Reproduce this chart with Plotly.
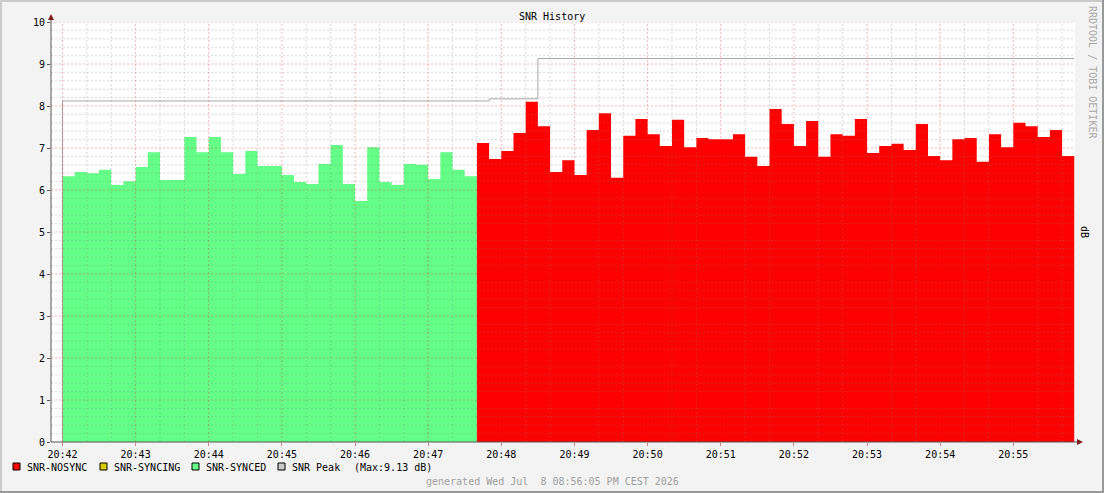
import pandas as pd
import plotly.graph_objects as go

# SNR samples, 10 s steps starting 20:42:00
start = pd.Timestamp("2026-07-08 20:42:00")
step_s = 10

synced = [6.33, 6.43, 6.40, 6.48, 6.12, 6.21, 6.55, 6.90, 6.24, 6.24,
          7.26, 6.90, 7.26, 6.90, 6.38, 6.93, 6.57, 6.57, 6.36, 6.19,
          6.14, 6.62, 7.07, 6.14, 5.74, 7.02, 6.19, 6.12, 6.62, 6.60,
          6.26, 6.90, 6.48, 6.33]
nosync = [7.12, 6.74, 6.93, 7.36, 8.10, 7.52, 6.43, 6.71, 6.36, 7.43,
          7.83, 6.29, 7.29, 7.69, 7.33, 7.05, 7.67, 7.02, 7.24, 7.21,
          7.21, 7.33, 6.79, 6.57, 7.93, 7.57, 7.05, 7.64, 6.79, 7.33,
          7.29, 7.69, 6.88, 7.05, 7.10, 6.95, 7.57, 6.81, 6.71, 7.21,
          7.24, 6.67, 7.33, 7.02, 7.60, 7.52, 7.26, 7.43, 6.81]
peak_levels = [8.12, 8.17, 9.13]
peak_runs = [35, 4, 44]

legend_names = ["SNR-NOSYNC", "SNR-SYNCING", "SNR-SYNCED", "SNR Peak"]
legend_colors = ["#FF0000", "#D8CC00", "#63FF86", "#C8C8C8"]

FONT = "DejaVu Sans Mono"
W, H = 1104, 493
L, R, T, B = 51, 1075, 22, 442


def px(x):
    return (x - L) / (R - L)


def py(y):
    return (B - y) / (B - T)


def t(i):
    return start + pd.Timedelta(seconds=step_s * i)


n_sync = len(synced)
n_all = n_sync + len(nosync)
peak = []
for lv, n in zip(peak_levels, peak_runs):
    peak += [lv] * n

fig = go.Figure()

xs = [t(i) for i in range(n_sync + 1)]
fig.add_trace(go.Scatter(x=xs, y=synced + [synced[-1]], mode="lines", line_shape="hv",
                         line=dict(width=0), fill="tozeroy", fillcolor="#63FF86",
                         hoverinfo="skip", showlegend=False))
xs = [t(i) for i in range(n_sync, n_all + 1)]
fig.add_trace(go.Scatter(x=xs, y=nosync + [nosync[-1]], mode="lines", line_shape="hv",
                         line=dict(width=0), fill="tozeroy", fillcolor="#FF0000",
                         hoverinfo="skip", showlegend=False))
xs = [t(0)] + [t(i) for i in range(n_all + 1)]
fig.add_trace(go.Scatter(x=xs, y=[0] + peak + [peak[-1]], mode="lines", line_shape="hv",
                         line=dict(width=1, color="#A8A8A8"),
                         hoverinfo="skip", showlegend=False))

x_lo = start - pd.Timedelta(seconds=9.4)
x_hi = start + pd.Timedelta(seconds=840 - 9.4)

shapes = []
# grid drawn over the areas, like rrdtool
minor = dict(color="rgba(128,128,128,0.3)", width=1, dash="2px,2px")
major = dict(color="rgba(255,0,0,0.3)", width=1, dash="2px,2px")
for k in range(1, 51):
    shapes.append(dict(type="line", xref="paper", yref="y", x0=0, x1=1, y0=k / 5, y1=k / 5,
                       line=major if k % 5 == 0 else minor, layer="above"))
for k in range(0, 42):
    tt = start + pd.Timedelta(seconds=20 * k)
    shapes.append(dict(type="line", xref="x", yref="y", x0=tt, x1=tt, y0=0, y1=10,
                       line=major if k % 3 == 0 else minor, layer="above"))

# axes and arrows
shapes.append(dict(type="line", xref="paper", yref="paper", x0=0, x1=0, y0=0, y1=py(17),
                   line=dict(color="#555555", width=1), layer="above"))
shapes.append(dict(type="line", xref="paper", yref="paper", x0=0, x1=px(1080), y0=0, y1=0,
                   line=dict(color="#555555", width=1), layer="above"))
shapes.append(dict(type="path", xref="paper", yref="paper",
                   path="M %f,%f L %f,%f L %f,%f Z" % (px(48), py(20), px(54), py(20), px(51), py(14)),
                   fillcolor="#7F1F1F", line=dict(width=0), layer="above"))
shapes.append(dict(type="path", xref="paper", yref="paper",
                   path="M %f,%f L %f,%f L %f,%f Z" % (px(1077), py(439), px(1077), py(445), px(1083), py(442)),
                   fillcolor="#7F1F1F", line=dict(width=0), layer="above"))

# frame
shapes.append(dict(type="rect", xref="paper", yref="paper", x0=px(0), x1=px(W), y0=py(0), y1=py(2),
                   fillcolor="#CBCBCB", line=dict(width=0)))
shapes.append(dict(type="rect", xref="paper", yref="paper", x0=px(0), x1=px(2), y0=py(0), y1=py(H),
                   fillcolor="#CBCBCB", line=dict(width=0)))
shapes.append(dict(type="rect", xref="paper", yref="paper", x0=px(0), x1=px(W), y0=py(H - 2), y1=py(H),
                   fillcolor="#999999", line=dict(width=0)))
shapes.append(dict(type="rect", xref="paper", yref="paper", x0=px(W - 2), x1=px(W), y0=py(0), y1=py(H),
                   fillcolor="#999999", line=dict(width=0)))

annotations = []


def text(x, y, s, size=10, color="#000000", xanchor="left", angle=0, yanchor="middle"):
    annotations.append(dict(x=px(x), y=py(y), xref="paper", yref="paper", text=s, showarrow=False,
                            xanchor=xanchor, yanchor=yanchor, textangle=angle,
                            font=dict(family=FONT, size=size, color=color)))


text(552, 16, "SNR History", xanchor="center")
text(1085, 232, "dB", xanchor="center", angle=90)
text(1093, 72, "RRDTOOL / TOBI OETIKER", color="#AAAAAA", xanchor="center", angle=90)
text(552, 481, "generated Wed Jul  8 08:56:05 PM CEST 2026", color="#A0A0A0", xanchor="center")

box_x = [13, 100, 192, 278]
for bx, name, col in zip(box_x, legend_names, legend_colors):
    shapes.append(dict(type="rect", xref="paper", yref="paper", x0=px(bx), x1=px(bx + 7),
                       y0=py(463), y1=py(470), fillcolor=col, line=dict(color="#000000", width=1)))
    text(bx + 12, 467, name)
text(352, 467, "(Max:%.2f dB)" % max(peak))

fig.update_layout(
    width=W, height=H,
    margin=dict(l=L, r=W - R, t=T, b=H - B),
    paper_bgcolor="#F3F3F3", plot_bgcolor="#FFFFFF",
    shapes=shapes, annotations=annotations,
    font=dict(family=FONT, size=10, color="#000000"),
    showlegend=False,
    xaxis=dict(type="date", range=[x_lo, x_hi], showgrid=False, zeroline=False,
               dtick=60000, tick0=start, tickformat="%H:%M", ticks="outside", ticklen=3,
               tickcolor="#D08080", tickfont=dict(family=FONT, size=10)),
    yaxis=dict(range=[0, 10], showgrid=False, zeroline=False, dtick=1, ticks="outside",
               ticklen=3, tickcolor="#555555", tickfont=dict(family=FONT, size=10)),
)

fig.write_html("out.html", config={"displayModeBar": False},
               post_script="document.body.style.margin='0';")
